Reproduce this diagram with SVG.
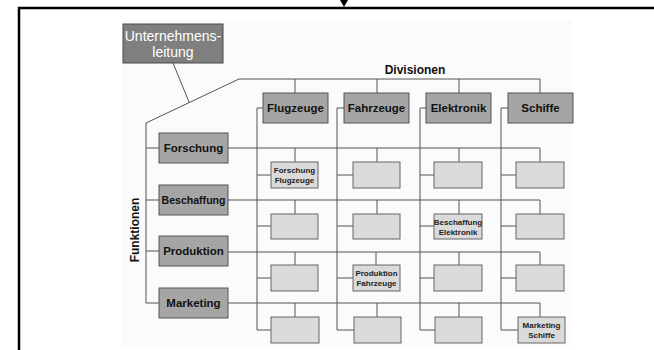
<svg xmlns="http://www.w3.org/2000/svg" width="654" height="350" viewBox="0 0 654 350">
  <defs>
    <style>
      .frame { stroke: #000; stroke-width: 2.5; fill: none; }
      .ln { stroke: #555; stroke-width: 1; fill: none; }
      .top { fill: #7f7f7f; stroke: #4a4a4a; stroke-width: 1; }
      .hdr { fill: #a5a5a5; stroke: #555; stroke-width: 1; }
      .cell { fill: #dadada; stroke: #666; stroke-width: 1; }
      .t-top { font-family: "Liberation Sans", Arial, sans-serif; font-size: 14px; fill: #fff; text-anchor: middle; }
      .t-hdr { font-family: "Liberation Sans", Arial, sans-serif; font-size: 11.5px; font-weight: bold; fill: #111; text-anchor: middle; }
      .t-cell { font-family: "Liberation Sans", Arial, sans-serif; font-size: 8px; font-weight: bold; fill: #222; text-anchor: middle; }
      .t-axis { font-family: "Liberation Sans", Arial, sans-serif; font-size: 12px; font-weight: bold; fill: #111; text-anchor: middle; }
    </style>
  </defs>

  <rect x="0" y="0" width="654" height="350" fill="#fff"/>

  <!-- outer frame with incoming arrow -->
  <g id="frame">
    <path class="frame" d="M19,350 V8 H654"/>
    <polygon points="340,0 348,0 344,7" fill="#000"/>
  </g>

  <!-- faint panel behind the chart -->
  <rect x="122" y="20" width="450" height="326" fill="#fbfbfb"/>

  <!-- connectors -->
  <g id="connectors" class="ln">
    <!-- management to structure -->
    <line x1="173" y1="63" x2="189" y2="102"/>
    <path d="M146,303 V123 L239,79 H540"/>
    <!-- division drops -->
    <line x1="295" y1="79" x2="295" y2="93"/>
    <line x1="377" y1="79" x2="377" y2="93"/>
    <line x1="459" y1="79" x2="459" y2="93"/>
    <line x1="540" y1="79" x2="540" y2="93"/>
    <!-- function stubs -->
    <line x1="146" y1="148" x2="159" y2="148"/>
    <line x1="146" y1="200" x2="159" y2="200"/>
    <line x1="146" y1="251" x2="159" y2="251"/>
    <line x1="146" y1="303" x2="159" y2="303"/>
    <!-- function rows -->
    <line x1="228" y1="148" x2="540" y2="148"/>
    <line x1="228" y1="200" x2="540" y2="200"/>
    <line x1="228" y1="252" x2="540" y2="252"/>
    <line x1="228" y1="303" x2="540" y2="303"/>
    <!-- division columns -->
    <path d="M263,108 H257 V330"/>
    <path d="M344,108 H337 V330"/>
    <path d="M426,108 H420 V330"/>
    <path d="M508,108 H501 V330"/>
    <!-- row drops to cells -->
    <line x1="295" y1="148" x2="295" y2="162"/>
    <line x1="377" y1="148" x2="377" y2="162"/>
    <line x1="459" y1="148" x2="459" y2="162"/>
    <line x1="540" y1="148" x2="540" y2="162"/>
    <line x1="295" y1="200" x2="295" y2="214"/>
    <line x1="377" y1="200" x2="377" y2="214"/>
    <line x1="459" y1="200" x2="459" y2="214"/>
    <line x1="540" y1="200" x2="540" y2="214"/>
    <line x1="295" y1="252" x2="295" y2="265"/>
    <line x1="376" y1="252" x2="376" y2="265"/>
    <line x1="459" y1="252" x2="459" y2="265"/>
    <line x1="540" y1="252" x2="540" y2="265"/>
    <line x1="295" y1="303" x2="295" y2="317"/>
    <line x1="377" y1="303" x2="377" y2="317"/>
    <line x1="459" y1="303" x2="459" y2="317"/>
    <line x1="540" y1="303" x2="540" y2="317"/>
    <!-- column stubs to cells -->
    <line x1="257" y1="175" x2="271" y2="175"/>
    <line x1="337" y1="175" x2="353" y2="175"/>
    <line x1="420" y1="175" x2="434" y2="175"/>
    <line x1="501" y1="175" x2="516" y2="175"/>
    <line x1="257" y1="226" x2="271" y2="226"/>
    <line x1="337" y1="226" x2="353" y2="226"/>
    <line x1="420" y1="226" x2="434" y2="226"/>
    <line x1="501" y1="226" x2="516" y2="226"/>
    <line x1="257" y1="278" x2="271" y2="278"/>
    <line x1="337" y1="278" x2="353" y2="278"/>
    <line x1="420" y1="278" x2="434" y2="278"/>
    <line x1="501" y1="278" x2="516" y2="278"/>
    <line x1="257" y1="330" x2="271" y2="330"/>
    <line x1="337" y1="330" x2="354" y2="330"/>
    <line x1="420" y1="330" x2="435" y2="330"/>
    <line x1="501" y1="330" x2="518" y2="330"/>
  </g>

  <!-- management -->
  <g id="unternehmensleitung">
    <rect class="top" x="123" y="24" width="100" height="39"/>
    <text class="t-top" x="173" y="41">Unternehmens-</text>
    <text class="t-top" x="173" y="57">leitung</text>
  </g>

  <!-- axis labels -->
  <g id="label-divisionen"><text class="t-axis" x="415" y="74">Divisionen</text></g>
  <g id="label-funktionen"><text class="t-axis" transform="translate(139,230) rotate(-90)">Funktionen</text></g>

  <!-- divisions -->
  <g id="div-flugzeuge"><rect class="hdr" x="263" y="93" width="65" height="30"/><text class="t-hdr" x="295.5" y="112">Flugzeuge</text></g>
  <g id="div-fahrzeuge"><rect class="hdr" x="344" y="93" width="65" height="30"/><text class="t-hdr" x="376.5" y="112">Fahrzeuge</text></g>
  <g id="div-elektronik"><rect class="hdr" x="426" y="93" width="65" height="30"/><text class="t-hdr" x="458.5" y="112">Elektronik</text></g>
  <g id="div-schiffe"><rect class="hdr" x="508" y="93" width="65" height="30"/><text class="t-hdr" x="540.5" y="112">Schiffe</text></g>

  <!-- functions -->
  <g id="fn-forschung"><rect class="hdr" x="159" y="133" width="69" height="30"/><text class="t-hdr" x="193.5" y="152">Forschung</text></g>
  <g id="fn-beschaffung"><rect class="hdr" x="159" y="185" width="69" height="30"/><text class="t-hdr" x="193.5" y="204" textLength="64" lengthAdjust="spacingAndGlyphs">Beschaffung</text></g>
  <g id="fn-produktion"><rect class="hdr" x="159" y="236" width="69" height="30"/><text class="t-hdr" x="193.5" y="255">Produktion</text></g>
  <g id="fn-marketing"><rect class="hdr" x="159" y="288" width="69" height="30"/><text class="t-hdr" x="193.5" y="307">Marketing</text></g>

  <!-- matrix cells -->
  <g id="cell-1-1"><rect class="cell" x="271" y="162" width="47" height="26"/><text class="t-cell" x="294.5" y="173">Forschung</text><text class="t-cell" x="294.5" y="183">Flugzeuge</text></g>
  <g id="cell-1-2"><rect class="cell" x="353" y="162" width="47" height="26"/></g>
  <g id="cell-1-3"><rect class="cell" x="434" y="162" width="48" height="26"/></g>
  <g id="cell-1-4"><rect class="cell" x="516" y="162" width="48" height="26"/></g>

  <g id="cell-2-1"><rect class="cell" x="271" y="214" width="47" height="25"/></g>
  <g id="cell-2-2"><rect class="cell" x="353" y="214" width="47" height="25"/></g>
  <g id="cell-2-3"><rect class="cell" x="434" y="214" width="48" height="25"/><text class="t-cell" x="458" y="225">Beschaffung</text><text class="t-cell" x="458" y="235">Elektronik</text></g>
  <g id="cell-2-4"><rect class="cell" x="516" y="214" width="48" height="25"/></g>

  <g id="cell-3-1"><rect class="cell" x="271" y="265" width="47" height="26"/></g>
  <g id="cell-3-2"><rect class="cell" x="353" y="265" width="47" height="26"/><text class="t-cell" x="376.5" y="276">Produktion</text><text class="t-cell" x="376.5" y="286">Fahrzeuge</text></g>
  <g id="cell-3-3"><rect class="cell" x="434" y="265" width="48" height="26"/></g>
  <g id="cell-3-4"><rect class="cell" x="516" y="265" width="48" height="26"/></g>

  <g id="cell-4-1"><rect class="cell" x="271" y="317" width="48" height="26"/></g>
  <g id="cell-4-2"><rect class="cell" x="354" y="317" width="47" height="26"/></g>
  <g id="cell-4-3"><rect class="cell" x="435" y="317" width="47" height="26"/></g>
  <g id="cell-4-4"><rect class="cell" x="518" y="317" width="47" height="26"/><text class="t-cell" x="541.5" y="328">Marketing</text><text class="t-cell" x="541.5" y="338">Schiffe</text></g>
</svg>
